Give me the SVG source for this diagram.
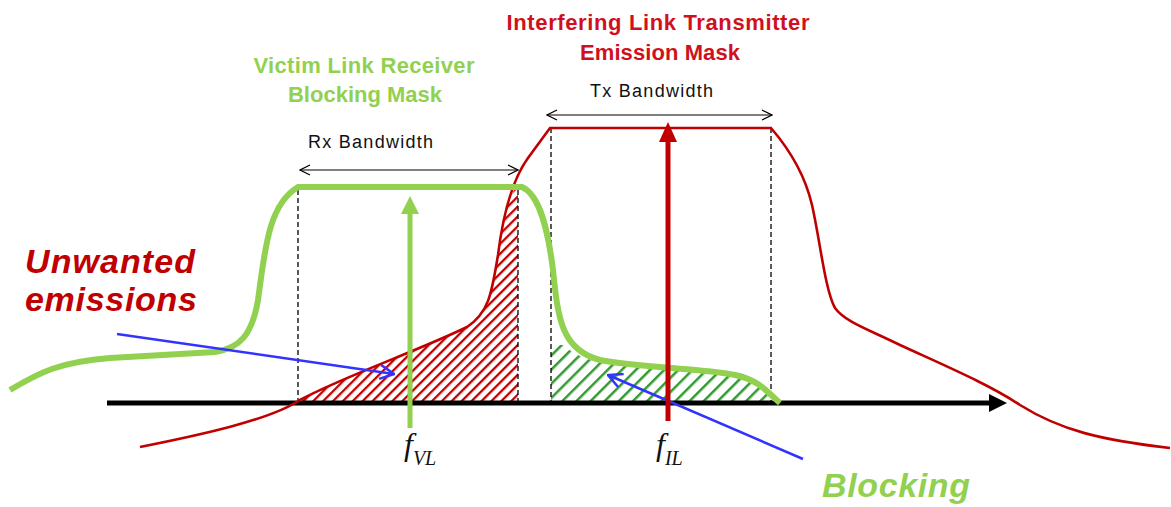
<svg xmlns="http://www.w3.org/2000/svg" width="1171" height="507" viewBox="0 0 1171 507">
<style>
.dash{stroke:#000;stroke-width:1.3;stroke-dasharray:5 3;fill:none}
.bw{stroke:#000;stroke-width:1.2;fill:none}
.bwt{font-family:"Liberation Sans",Arial,sans-serif;font-size:18px;fill:#111}
.blue{stroke:#3333FF;stroke-width:2.5;fill:none}
.ttl{font-family:"Liberation Sans",Arial,sans-serif;font-weight:bold;font-size:22px;text-anchor:middle}
.big{font-family:"Liberation Sans",Arial,sans-serif;font-weight:bold;font-style:italic;font-size:34px}
.f{font-family:"Liberation Serif","Times New Roman",serif;font-style:italic;fill:#111}
</style>
<defs>
<pattern id="hr" width="7" height="7" patternUnits="userSpaceOnUse" patternTransform="rotate(45)">
<line x1="1" y1="0" x2="1" y2="7" stroke="#C00000" stroke-width="2.6"/>
</pattern>
<pattern id="hg" width="10" height="10" patternUnits="userSpaceOnUse" patternTransform="rotate(45)">
<line x1="1" y1="0" x2="1" y2="10" stroke="#339933" stroke-width="3"/>
</pattern>
<marker id="open" viewBox="0 0 12 12" refX="11" refY="6" markerWidth="12" markerHeight="12" markerUnits="userSpaceOnUse" orient="auto-start-reverse">
<path d="M1,1 L11,6 L1,11" fill="none" stroke="#000" stroke-width="1.2"/>
</marker>
<marker id="openb" viewBox="0 0 16 16" refX="15" refY="8" markerWidth="16" markerHeight="16" markerUnits="userSpaceOnUse" orient="auto">
<path d="M1,1 L15,8 L1,15" fill="none" stroke="#3333FF" stroke-width="2.5"/>
</marker>
</defs>
<rect width="1171" height="507" fill="#fff"/>

<g id="hatches">
<path d="M300,403 L300,400 C340,378 420,350 467,327 C490,312 492,290 498,255 C503,220 510,195 515,189 L518,189 L518,403 Z" fill="url(#hr)"/>
<path d="M551,345 L563,345 C575,356 590,360 600,362 C640,370 700,370 735,377 C755,381 765,392 775,403 L551,403 Z" fill="url(#hg)"/>
</g>

<g id="guides">
<line class="dash" x1="298" y1="190" x2="298" y2="403"/>
<line class="dash" x1="518" y1="190" x2="518" y2="403" stroke-width="2"/>
<line class="dash" x1="551" y1="128" x2="551" y2="403"/>
<line class="dash" x1="771" y1="128" x2="771" y2="403"/>
</g>

<g id="axis">
<line x1="107" y1="403" x2="992" y2="403" stroke="#000" stroke-width="5"/>
<polygon points="989,394 1007,403 989,412" fill="#000"/>
</g>

<g id="tx-mask">
<path d="M140,447 C200,435 270,420 300,400 C340,378 420,350 467,327 C490,312 492,290 498,255 C503,215 512,180 528,158 L550,128 L771,128 C790,150 805,175 812,205 C820,240 825,290 835,308 C845,322 870,330 900,345 C950,368 990,385 1020,405 C1060,430 1100,440 1170,448" fill="none" stroke="#C00000" stroke-width="2.6"/>
</g>

<g id="rx-mask">
<path d="M10,390 C40,372 60,362 110,358 L215,352 C240,348 252,335 258,300 C265,250 268,205 298,187 L522,187 C540,195 548,230 553,270 C558,320 562,350 600,360 C640,368 700,368 735,375 C760,380 770,395 780,403" fill="none" stroke="#92D050" stroke-width="6"/>
</g>

<g id="connectors">
<line class="bw" x1="300" y1="170" x2="518" y2="170" marker-start="url(#open)" marker-end="url(#open)"/>
<line class="bw" x1="547" y1="115" x2="772" y2="115" marker-start="url(#open)" marker-end="url(#open)"/>
<line class="blue" x1="117" y1="334" x2="394" y2="374" marker-end="url(#openb)"/>
<line class="blue" x1="803" y1="459" x2="608" y2="375" marker-end="url(#openb)"/>
<line x1="410" y1="428" x2="410" y2="210" stroke="#92D050" stroke-width="5"/>
<polygon points="401,214 410,196 419,214" fill="#92D050"/>
<line x1="668" y1="421" x2="668" y2="138" stroke="#C00000" stroke-width="5"/>
<polygon points="659,142 668,122 677,142" fill="#C00000"/>
</g>

<g id="labels" xml:space="preserve">
<text class="ttl" x="364" y="73" fill="#92D050" textLength="221">Victim Link Receiver</text>
<text class="ttl" x="365" y="102" fill="#92D050" textLength="154">Blocking  Mask</text>
<text class="ttl" x="658" y="30" fill="#D01020" textLength="303">Interfering Link Transmitter</text>
<text class="ttl" x="660" y="60" fill="#D01020" textLength="160">Emission  Mask</text>
<text class="bwt" x="308" y="148" textLength="125">Rx Bandwidth</text>
<text class="bwt" x="590" y="97" textLength="123">Tx Bandwidth</text>
<text class="big" x="25" y="273" fill="#C00000" textLength="170">Unwanted</text>
<text class="big" x="25" y="311" fill="#C00000" textLength="172">emissions</text>
<text class="big" x="822" y="497" fill="#92D050" textLength="148">Blocking</text>
<text class="f" x="404" y="455" font-size="32">f<tspan font-size="20" dy="10">VL</tspan></text>
<text class="f" x="656" y="455" font-size="32">f<tspan font-size="20" dy="10">IL</tspan></text>
</g>
</svg>
